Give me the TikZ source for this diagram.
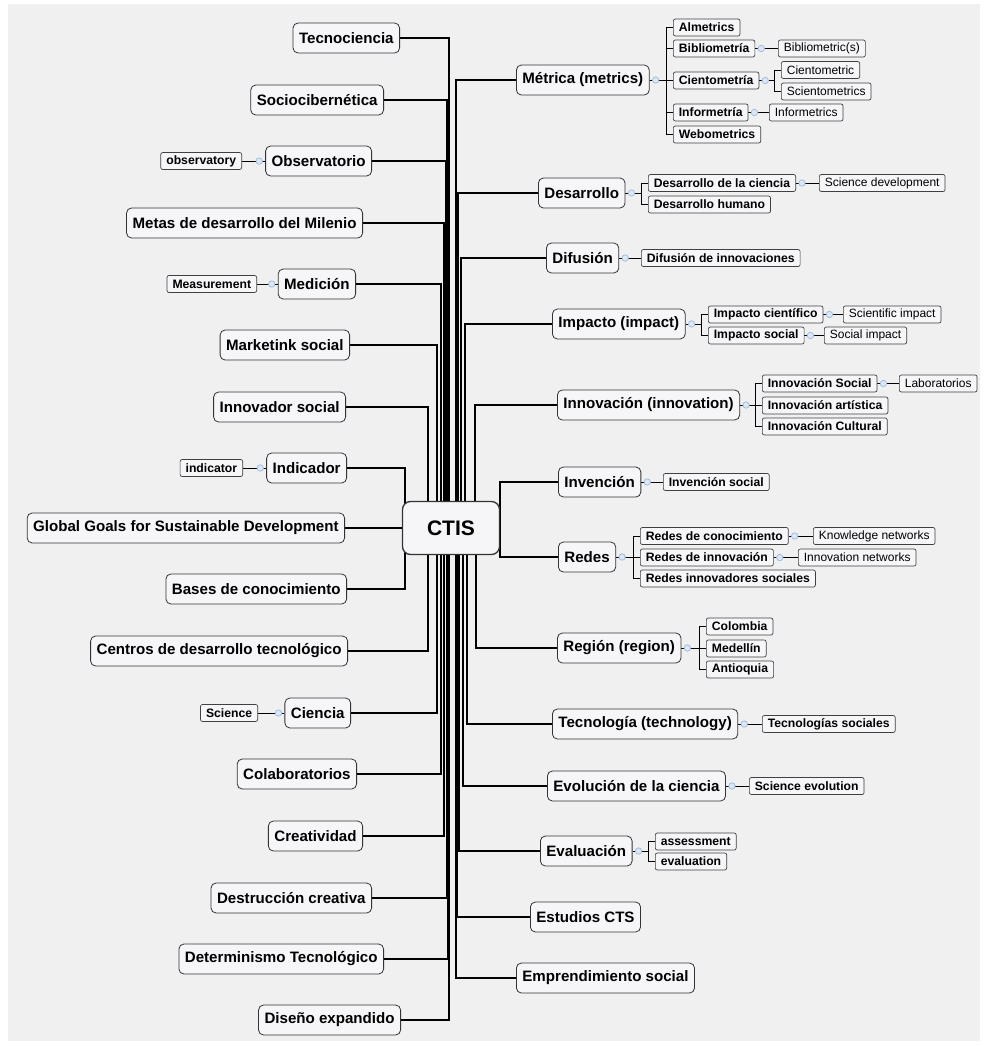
\documentclass[tikz,border=0pt]{standalone}
\usepackage{fontspec}
\setmainfont{Liberation Sans}
\usetikzlibrary{backgrounds}
\definecolor{canvas}{HTML}{F0F0F0}
\definecolor{boxfill}{HTML}{F6F6F9}
\definecolor{togglec}{HTML}{9DB9DE}
\definecolor{togglefill}{HTML}{DCE7F5}

\begin{document}
\begin{tikzpicture}[
  x=1pt, y=-1pt,
  topic/.style={draw=black!80, fill=boxfill, rounded corners=5pt, line width=0.8pt, minimum height=30pt, inner xsep=6pt, inner ysep=0pt, font=\fontsize{15.1}{17}\selectfont\bfseries},
  root/.style={topic, rounded corners=8pt, line width=1.3pt, minimum width=97pt, minimum height=53pt, font=\fontsize{21}{24}\selectfont\bfseries},
  leaf/.style={draw=black!75, fill=boxfill, rounded corners=2pt, line width=0.7pt, minimum height=17pt, inner xsep=5.5pt, inner ysep=0pt, font=\fontsize{12.2}{13}\selectfont\bfseries},
  note/.style={leaf, font=\fontsize{12}{13}\selectfont},
  lt/.style={topic, anchor=east},
  rt/.style={topic, anchor=west},
  ll/.style={leaf, anchor=east},
  rl/.style={leaf, anchor=west},
  rn/.style={note, anchor=west},
  trunk/.style={line width=1.5pt},
  link/.style={line width=0.8pt},
  toggle/.style={draw=togglec, fill=togglefill, line width=0.7pt}
]
\useasboundingbox (0,0) rectangle (984,1045);

% Central topic
\node[root] (ctis) at (451,528) {CTIS};

% Left column
\node[lt] (tecno) at (400,38) {Tecnociencia};
\node[lt] (socio) at (384,100) {Sociocibernética};
\node[lt] (obs) at (372,161) {Observatorio};
\node[lt] (metas) at (363,223) {Metas de desarrollo del Milenio};
\node[lt] (medic) at (356,284) {Medición};
\node[lt] (mkt) at (350,345) {Marketink social};
\node[lt] (innsoc) at (346,407) {Innovador social};
\node[lt] (indic) at (347,468) {Indicador};
\node[lt] (goals) at (345,528) {Global Goals for Sustainable Development};
\node[lt] (bases) at (347,589) {Bases de conocimiento};
\node[lt] (centros) at (348,651) {Centros de desarrollo tecnológico};
\node[lt] (ciencia) at (351,713) {Ciencia};
\node[lt] (colab) at (357,774) {Colaboratorios};
\node[lt] (creat) at (363,836) {Creatividad};
\node[lt] (destr) at (372,898) {Destrucción creativa};
\node[lt] (determ) at (384,959) {Determinismo Tecnológico};
\node[lt] (diseno) at (401,1020) {Diseño expandido};

% Left translations
\node[ll] (obsen) at (242,161) {observatory};
\node[ll] (medicen) at (257,284) {Measurement};
\node[ll] (indicen) at (243,468) {indicator};
\node[ll] (cienen) at (258,713) {Science};

% Right column
\node[rt] (metrica) at (516,80) {Métrica (metrics)};
\node[rt] (desarr) at (538,193) {Desarrollo};
\node[rt] (difus) at (546,258) {Difusión};
\node[rt] (impacto) at (552,324) {Impacto (impact)};
\node[rt] (innov) at (557,405) {Innovación (innovation)};
\node[rt] (invenc) at (558,482) {Invención};
\node[rt] (redes) at (558,557) {Redes};
\node[rt] (region) at (557,648) {Región (region)};
\node[rt] (tecnol) at (552,724) {Tecnología (technology)};
\node[rt] (evol) at (547,786) {Evolución de la ciencia};
\node[rt] (evalu) at (540,851) {Evaluación};
\node[rt] (estud) at (530,917) {Estudios CTS};
\node[rt] (empren) at (516,978) {Emprendimiento social};

% Right subtopics
\node[rl] (alm) at (673,27.5) {Almetrics};
\node[rl] (biblio) at (673,48.5) {Bibliometría};
\node[rl] (cient) at (673,80.5) {Cientometría};
\node[rl] (inform) at (673,112.5) {Informetría};
\node[rl] (webo) at (673,134.5) {Webometrics};
\node[rn] (biblioen) at (778,48.5) {Bibliometric(s)};
\node[rn] (cientena) at (781,70) {Cientometric};
\node[rn] (cientenb) at (781,91.5) {Scientometrics};
\node[rn] (informen) at (769,112.5) {Informetrics};

\node[rl] (dcien) at (648,183) {Desarrollo de la ciencia};
\node[rl] (dhum) at (648,204.5) {Desarrollo humano};
\node[rn] (dcienen) at (819,183) {Science development};

\node[rl] (difinn) at (641,258) {Difusión de innovaciones};

\node[rl] (impcien) at (708,314.5) {Impacto científico};
\node[rl] (impsoc) at (708,335.5) {Impacto social};
\node[rn] (impcienen) at (843,314.5) {Scientific impact};
\node[rn] (impsocen) at (824,335.5) {Social impact};

\node[rl] (innsocial) at (762,383.5) {Innovación Social};
\node[rl] (innart) at (762,405.5) {Innovación artística};
\node[rl] (inncult) at (762,426.5) {Innovación Cultural};
\node[rn] (lab) at (899,383.5) {Laboratorios};

\node[rl] (invsoc) at (663,482) {Invención social};

\node[rl] (redcon) at (640,536) {Redes de conocimiento};
\node[rl] (redinn) at (640,557.5) {Redes de innovación};
\node[rl] (redsoc) at (640,578.5) {Redes innovadores sociales};
\node[rn] (redconen) at (813,536) {Knowledge networks};
\node[rn] (redinnen) at (798,557.5) {Innovation networks};

\node[rl] (colom) at (706,626.5) {Colombia};
\node[rl] (medel) at (706,648.5) {Medellín};
\node[rl] (antioq) at (706,669.5) {Antioquia};

\node[rl] (tecsoc) at (762,724) {Tecnologías sociales};
\node[rl] (scievol) at (749,786) {Science evolution};

\node[rl] (assess) at (655,841.5) {assessment};
\node[rl] (evalen) at (655,861.5) {evaluation};

% Connectors, behind the boxes
\begin{scope}[on background layer]
\fill[white] (0,0) rectangle (984,1045);
\fill[canvas] (8,4) rectangle (980,1041);

\foreach \n/\dx in {tecno/-2, socio/-4, obs/-5, metas/-7, medic/-10, mkt/-14, innsoc/-23, indic/-46,
                    bases/-46, centros/-23, ciencia/-14, colab/-10, creat/-7, destr/-4, determ/-3, diseno/-2}
  \draw[trunk] (\n.east) -| ([xshift=\dx pt]ctis.center);
\draw[trunk] (goals.east) -- (ctis.west);
\foreach \n/\dx in {metrica/5, desarr/7, difus/10, impacto/14, innov/24, invenc/49,
                    redes/49, region/25, tecnol/16, evol/12, evalu/8, estud/6, empren/5}
  \draw[trunk] (\n.west) -| ([xshift=\dx pt]ctis.center);

% translations on the left
\foreach \p/\c in {obs/obsen, medic/medicen, indic/indicen, ciencia/cienen}
  \draw[link] (\p.west) -- (\c.east);

% brackets on the right
\foreach \p/\c in {metrica/alm, metrica/biblio, metrica/cient, metrica/inform, metrica/webo,
                   cient/cientena, cient/cientenb, desarr/dcien, desarr/dhum,
                   impacto/impcien, impacto/impsoc, innov/innsocial, innov/innart, innov/inncult,
                   redes/redcon, redes/redinn, redes/redsoc, region/colom, region/medel, region/antioq,
                   evalu/assess, evalu/evalen}
  \draw[link] (\p.east) -| ([xshift=-7pt]\c.west) -- (\c.west);
\foreach \p/\c in {biblio/biblioen, inform/informen, dcien/dcienen, difus/difinn, impcien/impcienen,
                   impsoc/impsocen, innsocial/lab, invenc/invsoc, redcon/redconen, redinn/redinnen,
                   tecnol/tecsoc, evol/scievol}
  \draw[link] (\p.east) -- (\c.west);
\end{scope}

% collapse markers
\foreach \p in {metrica, biblio, cient, inform, desarr, dcien, difus, impacto, impcien, impsoc,
                innov, innsocial, invenc, redes, redcon, redinn, region, tecnol, evol, evalu}
  \draw[toggle] ([xshift=6pt]\p.east) circle (3.2pt);
\foreach \p in {obs, medic, indic, ciencia}
  \draw[toggle] ([xshift=-6pt]\p.west) circle (3.2pt);
\end{tikzpicture}
\end{document}
